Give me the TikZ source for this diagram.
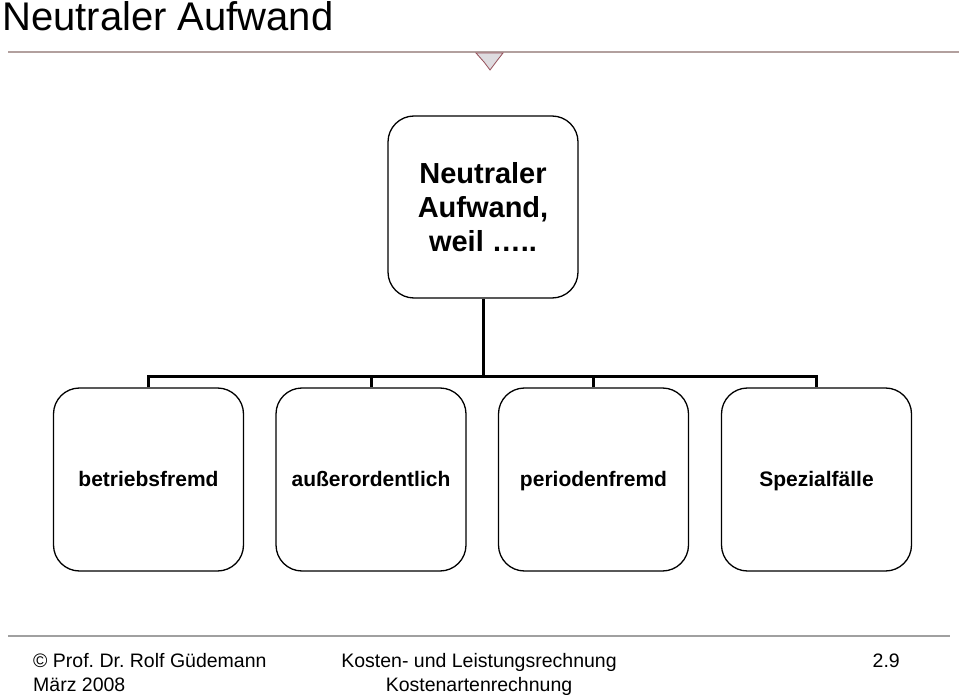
\documentclass[tikz,border=0pt]{standalone}
\usepackage{fontspec}
\setmainfont{Liberation Sans}
\frenchspacing
\definecolor{hdrline}{RGB}{178,160,158}
\definecolor{ftrline}{RGB}{160,160,160}
\definecolor{iconfill}{RGB}{222,220,224}
\definecolor{iconedge}{RGB}{150,80,90}
\tikzset{
  box/.style={draw=black, line width=1.3pt, rounded corners=26pt, fill=white,
    minimum width=190pt, minimum height=183pt, inner sep=0pt, align=center},
  lowbox/.style={box, font=\fontsize{21}{25}\selectfont\bfseries,
    text height=15pt, text depth=1pt},
  conn/.style={draw=black, line width=3pt},
  ftr/.style={font=\fontsize{19.5}{23}\selectfont, inner sep=0pt},
}
\begin{document}
\begin{tikzpicture}[x=1pt,y=-1pt]
\useasboundingbox (0,0) rectangle (959,695);
% header
\node[anchor=base west, inner sep=0pt, font=\fontsize{40}{44}\selectfont] (title) at (2,31) {Neutraler Aufwand};
\draw[hdrline, line width=2pt] (8,52) -- (959,52);
\filldraw[fill=iconfill, draw=iconedge, line width=0.8pt] (476,53) -- (503,53) -- (496,62) -- (490,70) -- (484,62) -- cycle;
% boxes
\node[box, minimum height=182pt, font=\fontsize{29}{34}\selectfont\bfseries] (top) at (483,207) {Neutraler\\Aufwand,\\weil …..};
\node[lowbox] (b1) at (148.5,479.5) {betriebsfremd};
\node[lowbox] (b2) at (371,479.5) {außerordentlich};
\node[lowbox] (b3) at (593.5,479.5) {periodenfremd};
\node[lowbox] (b4) at (816.5,479.5) {Spezialfälle};
% connectors
\coordinate (j) at (483,376);
\draw[conn] (top.south) -- (j);
\draw[conn] (b1.north) -- (b1.north |- j) -- (b4.north |- j) -- (b4.north);
\draw[conn] (b2.north) -- (b2.north |- j);
\draw[conn] (b3.north) -- (b3.north |- j);
% footer
\draw[ftrline, line width=2pt] (8,636) -- (950,636);
\node[ftr, anchor=base west] (f1) at (33,667) {© Prof. Dr. Rolf Güdemann};
\node[ftr, anchor=base west] (f2) at (33,691) {März 2008};
\node[ftr, anchor=base] (f3) at (479,667) {Kosten- und Leistungsrechnung};
\node[ftr, anchor=base] (f4) at (479,691) {Kostenartenrechnung};
\node[ftr, anchor=base east] (f5) at (900,667) {2.9};
\end{tikzpicture}
\end{document}
